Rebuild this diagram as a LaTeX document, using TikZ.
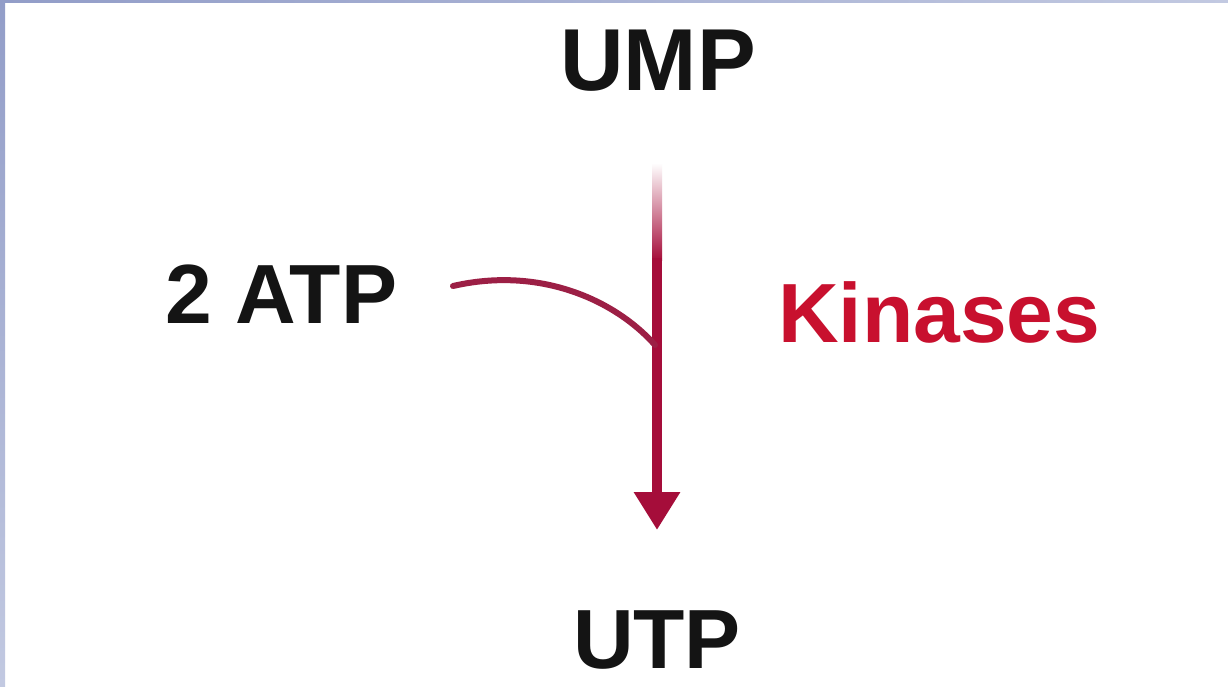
\documentclass[tikz,border=0pt]{standalone}
\usepackage{fontspec}
\setmainfont{Liberation Sans}
\usetikzlibrary{arrows.meta}
\definecolor{arrowred}{HTML}{A50D3A}
\definecolor{curvered}{HTML}{9C1F45}
\definecolor{kinred}{HTML}{C8102E}
\definecolor{txt}{HTML}{141414}
\definecolor{edgeA}{HTML}{929DC8}
\definecolor{edgeB}{HTML}{C2C9E1}
\begin{document}
\begin{tikzpicture}[x=1pt,y=-1pt,
  lbl/.style={inner sep=0pt,font=\bfseries\fontsize{84}{84}\selectfont,text=txt},
  big/.style={lbl,font=\bfseries\fontsize{88}{88}\selectfont}]
\useasboundingbox (0,0) rectangle (1228,686);
\fill[white] (0,0) rectangle (1228,686);
% bluish frame strips
\shade[top color=edgeA,bottom color=edgeB] (0,0) rectangle (5,686);
\shade[left color=edgeA,right color=edgeB] (0,0) rectangle (1228,2);
% labels
\node[big,anchor=base] (ump) at (658,90) {UMP};
\node[lbl,anchor=base] (utp) at (657,668) {UTP};
\node[lbl,anchor=base west] (atp) at (165,323) {2 ATP};
\node[lbl,anchor=base west,text=kinred] (kin) at (778,342) {Kinases};
% arrow coordinates
\coordinate (top) at (657,163);
\coordinate (mid) at (657,258);
\coordinate (tip) at (657,530);
\coordinate (join) at (655,345);
\coordinate (atpend) at (453,286);
% faded top of the main arrow
\shade[top color=white,bottom color=arrowred] (652,163) rectangle (662,260);
\draw[arrowred,line width=10pt,-{Triangle[width=44pt,length=38pt]}] (mid) -- (tip);
% curved ATP input
\draw[curvered,line width=6pt,line cap=round] (atpend) .. controls (540,266) and (615,300) .. (join);
\end{tikzpicture}
\end{document}
